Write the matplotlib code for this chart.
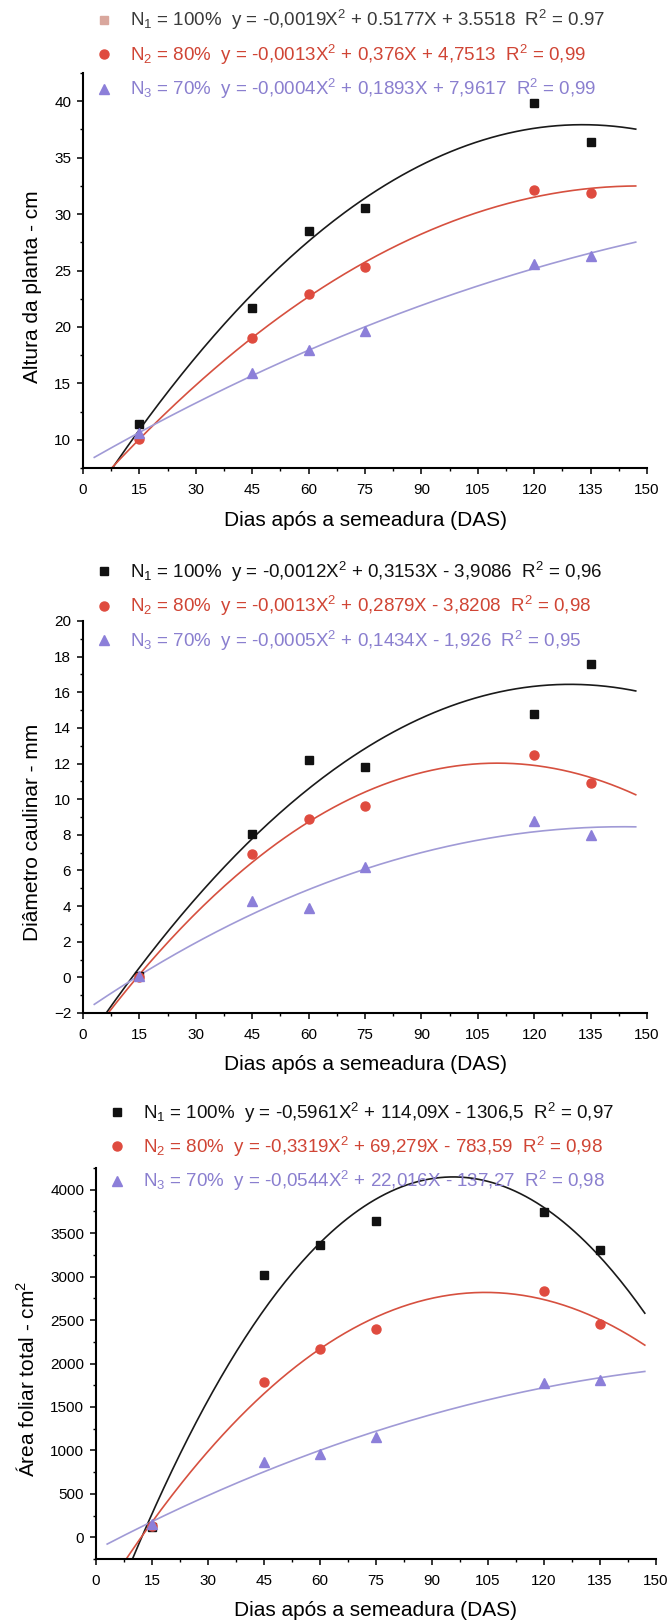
"""Altura, diametro e area foliar vs dias apos a semeadura (3 niveis de N)"""

import numpy as np
import matplotlib
matplotlib.use('Agg')
import matplotlib.pyplot as plt
from matplotlib.ticker import MultipleLocator

plt.rcParams['font.family'] = ['Liberation Sans', 'DejaVu Sans']
plt.rcParams['mathtext.fontset'] = 'custom'
plt.rcParams['mathtext.rm'] = 'Liberation Sans'
plt.rcParams['mathtext.it'] = 'Liberation Sans:italic'
plt.rcParams['mathtext.default'] = 'regular'

days = [15, 45, 60, 75, 120, 135]                 # DAS

alt_n1 = [11.4, 21.7, 28.5, 30.5, 39.8, 36.4]      # altura da planta - cm
alt_n2 = [10.1, 19.0, 22.9, 25.3, 32.1, 31.9]
alt_n3 = [10.6, 15.9, 18.0, 19.6, 25.6, 26.3]

diam_n1 = [0.05, 8.05, 12.2, 11.8, 14.8, 17.6]     # diametro caulinar - mm
diam_n2 = [0.0, 6.95, 8.9, 9.6, 12.5, 10.9]
diam_n3 = [0.05, 4.3, 3.9, 6.2, 8.8, 8.0]

area_n1 = [120, 3015, 3360, 3645, 3740, 3310]      # area foliar total - cm2
area_n2 = [135, 1785, 2165, 2395, 2835, 2455]
area_n3 = [150, 865, 960, 1155, 1770, 1815]

leg_alt = ['N$_1$ = 100%  y = -0,0019X$^2$ + 0.5177X + 3.5518  R$^2$ = 0.97',
           'N$_2$ = 80%  y = -0,0013X$^2$ + 0,376X + 4,7513  R$^2$ = 0,99',
           'N$_3$ = 70%  y = -0,0004X$^2$ + 0,1893X + 7,9617  R$^2$ = 0,99']
leg_diam = ['N$_1$ = 100%  y = -0,0012X$^2$ + 0,3153X - 3,9086  R$^2$ = 0,96',
            'N$_2$ = 80%  y = -0,0013X$^2$ + 0,2879X - 3,8208  R$^2$ = 0,98',
            'N$_3$ = 70%  y = -0,0005X$^2$ + 0,1434X - 1,926  R$^2$ = 0,95']
leg_area = ['N$_1$ = 100%  y = -0,5961X$^2$ + 114,09X - 1306,5  R$^2$ = 0,97',
            'N$_2$ = 80%  y = -0,3319X$^2$ + 69,279X - 783,59  R$^2$ = 0,98',
            'N$_3$ = 70%  y = -0,0544X$^2$ + 22,016X - 137,27  R$^2$ = 0,98']

W, H = 670.0, 1623.0
mk_col = ['#111111', '#df4b3f', '#8c7fd9']
ln_col = ['#1a1a1a', '#d6503f', '#a09ad6']
tx_col = ['#111111', '#d04535', '#8a7fcf']
markers = ['s', 'o', '^']

fig = plt.figure(figsize=(W / 100, H / 100), dpi=100)


def panel(box, series, labels, ylab, ylim, ymaj, ymin, ylab_x, leg_y, first_faded=False):
	l, r, t, b = box
	ax = fig.add_axes([l / W, 1 - b / H, (r - l) / W, (b - t) / H])
	xs = np.linspace(3, 147, 200)
	handles = []
	for k, vals in enumerate(series):
		c = np.polyfit(days, vals, 2)   # quadratic trend, as in the original
		ax.plot(xs, np.polyval(c, xs), color=ln_col[k], lw=1.2, zorder=2)
		h, = ax.plot(days, vals, markers[k], color=mk_col[k], ms=6.5 if k else 6,
		             mec=mk_col[k], zorder=3, clip_on=False)
		handles.append(h)
	ax.set_xlim(0, 150)
	ax.set_ylim(*ylim)
	ax.xaxis.set_major_locator(MultipleLocator(15))
	ax.xaxis.set_minor_locator(MultipleLocator(7.5))
	ax.yaxis.set_major_locator(MultipleLocator(ymaj))
	ax.yaxis.set_minor_locator(MultipleLocator(ymin))
	for s in ['top', 'right']:
		ax.spines[s].set_visible(False)
	for s in ['left', 'bottom']:
		ax.spines[s].set_linewidth(1.5)
	ax.tick_params(which='major', direction='out', length=4.5, width=1.1, labelsize=11)
	ax.tick_params(axis='x', which='major', pad=6)
	ax.tick_params(axis='y', which='major', pad=4)
	ax.tick_params(which='minor', direction='out', length=2.5, width=1.0)
	ax.set_ylabel(ylab, fontsize=15, va='center')
	ax.yaxis.set_label_coords(ylab_x, 0.46)
	ax.set_xlabel('Dias após a semeadura (DAS)', fontsize=15, va='center')
	ax.xaxis.set_label_coords(0.5, -52.0 / (b - t))
	leg = ax.legend(handles, labels, loc='center left', bbox_to_anchor=(0.02, leg_y),
	                frameon=False, fontsize=13.5, handlelength=1.0, handletextpad=0.9,
	                labelspacing=0.55, borderpad=0, borderaxespad=0)
	for k, txt in enumerate(leg.get_texts()):
		txt.set_color(tx_col[k])
	if first_faded:
		leg.get_texts()[0].set_color('#3a3a3a')
		leg.legend_handles[0].set_markerfacecolor('#d9a79d')
		leg.legend_handles[0].set_markeredgecolor('#d9a79d')
	return ax


panel((83, 647, 73, 468), [alt_n1, alt_n2, alt_n3], leg_alt, 'Altura da planta - cm',
      (7.5, 42.5), 5, 2.5, -0.09, 1.046, first_faded=True)
panel((83, 647, 621, 1013), [diam_n1, diam_n2, diam_n3], leg_diam, 'Diâmetro caulinar - mm',
      (-2, 20), 2, 1, -0.09, 1.038)
panel((96, 656, 1168, 1559), [area_n1, area_n2, area_n3], leg_area, 'Área foliar total - cm$^2$',
      (-250, 4250), 500, 250, -0.124, 1.054)

fig.savefig('out.png', dpi=100)
